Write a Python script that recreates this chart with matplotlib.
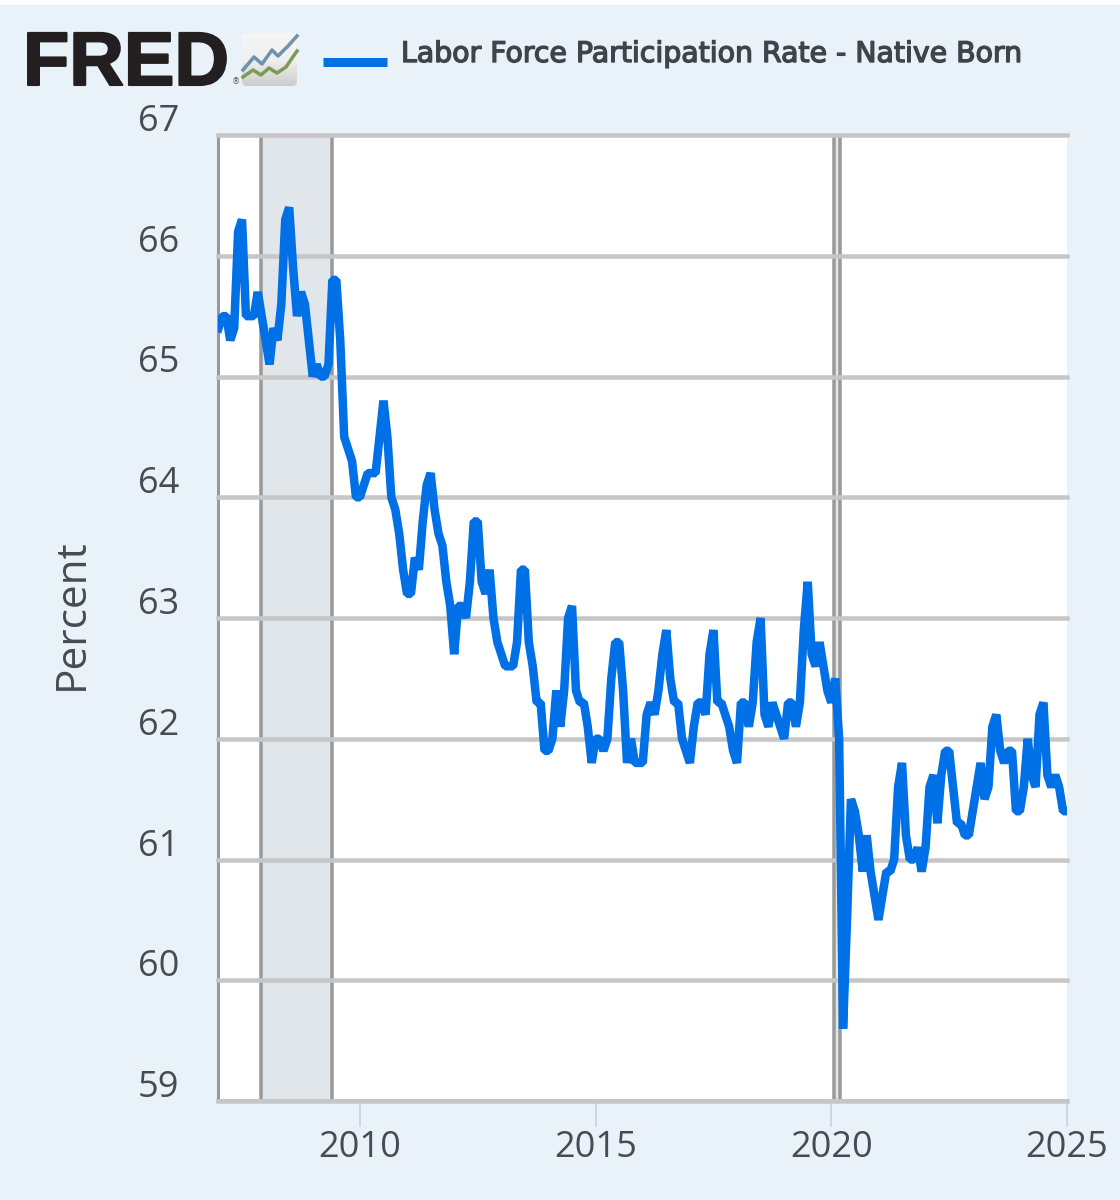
import numpy as np
import matplotlib
matplotlib.use('Agg')
import matplotlib.pyplot as plt
from matplotlib.patches import FancyBboxPatch, Rectangle
from matplotlib.transforms import ScaledTranslation
import matplotlib.patheffects as pe

W, H = 1120, 1200

# Monthly values, one list per year
y2007 = [65.4, 65.5, 65.5, 65.3, 65.4, 66.2, 66.3, 65.5, 65.5, 65.5, 65.7, 65.5]
y2008 = [65.3, 65.1, 65.4, 65.3, 65.6, 66.3, 66.4, 65.9, 65.5, 65.7, 65.6, 65.3]
y2009 = [65.0, 65.1, 65.0, 65.0, 65.1, 65.8, 65.8, 65.3, 64.5, 64.4, 64.3, 64.0]
y2010 = [64.0, 64.1, 64.2, 64.2, 64.2, 64.5, 64.8, 64.5, 64.0, 63.9, 63.7, 63.4]
y2011 = [63.2, 63.2, 63.5, 63.4, 63.8, 64.1, 64.2, 63.9, 63.7, 63.6, 63.3, 63.1]
y2012 = [62.7, 63.1, 63.1, 63.0, 63.3, 63.8, 63.8, 63.3, 63.2, 63.4, 63.0, 62.8]
y2013 = [62.7, 62.6, 62.6, 62.6, 62.8, 63.4, 63.4, 62.8, 62.6, 62.3, 62.3, 61.9]
y2014 = [61.9, 62.0, 62.4, 62.1, 62.4, 63.0, 63.1, 62.4, 62.3, 62.3, 62.1, 61.8]
y2015 = [62.0, 62.0, 61.9, 62.0, 62.5, 62.8, 62.8, 62.4, 61.8, 62.0, 61.8, 61.8]
y2016 = [61.8, 62.2, 62.3, 62.2, 62.4, 62.7, 62.9, 62.5, 62.3, 62.3, 62.0, 61.9]
y2017 = [61.8, 62.1, 62.3, 62.3, 62.2, 62.7, 62.9, 62.3, 62.3, 62.2, 62.1, 61.9]
y2018 = [61.8, 62.3, 62.3, 62.1, 62.3, 62.8, 63.0, 62.2, 62.1, 62.3, 62.2, 62.1]
y2019 = [62.0, 62.3, 62.3, 62.1, 62.3, 62.9, 63.3, 62.7, 62.6, 62.8, 62.6, 62.4]
y2020 = [62.3, 62.5, 62.0, 59.6, 60.5, 61.5, 61.4, 61.2, 60.9, 61.2, 60.9, 60.7]
y2021 = [60.5, 60.7, 60.9, 60.9, 61.0, 61.6, 61.8, 61.2, 61.0, 61.0, 61.1, 60.9]
y2022 = [61.1, 61.6, 61.7, 61.3, 61.7, 61.9, 61.9, 61.6, 61.3, 61.3, 61.2, 61.2]
y2023 = [61.4, 61.6, 61.8, 61.5, 61.6, 62.1, 62.2, 61.9, 61.8, 61.9, 61.9, 61.4]
y2024 = [61.4, 61.6, 62.0, 61.7, 61.6, 62.2, 62.3, 61.7, 61.6, 61.7, 61.6, 61.4]
y2025 = [61.4]

years = [y2007, y2008, y2009, y2010, y2011, y2012, y2013, y2014, y2015,
         y2016, y2017, y2018, y2019, y2020, y2021, y2022, y2023, y2024, y2025]

recessions = [(2007.91, 2009.40), (2020.06, 2020.19)]
xticks = [2010, 2015, 2020, 2025]
yticks = [59, 60, 61, 62, 63, 64, 65, 66, 67]
title = "Labor Force Participation Rate - Native Born"

BG = '#eaf2f9'
BLUE = '#0070e6'
TEXT = '#474c53'
px = 72 / 100  # points per pixel


def main():
    values = np.concatenate(years)
    dates = 2007 + np.arange(len(values)) / 12

    fig = plt.figure(figsize=(W / 100, H / 100), dpi=100, facecolor=BG)
    plt.rcParams['font.family'] = ['Open Sans', 'DejaVu Sans']

    # page level furniture, in pixel coordinates
    page = fig.add_axes([0, 0, 1, 1], zorder=0)
    page.set_xlim(0, W)
    page.set_ylim(H, 0)
    page.axis('off')
    page.add_patch(Rectangle((0, 0), W, 5, color='white', lw=0))

    fred = page.text(23, 85, "FRED", family='Liberation Sans', weight='bold',
                     fontsize=54.5, color='#231f20', ha='left', va='baseline')
    fred.set_path_effects([pe.withStroke(linewidth=1.5, foreground='#231f20')])
    page.text(236, 82, "®", family='DejaVu Sans', fontsize=6, color='#555555',
              ha='center', va='center')

    # little chart icon beside the logo
    box = FancyBboxPatch((242, 33), 55, 53, boxstyle='round,pad=0,rounding_size=5',
                         fc='none', ec='none')
    page.add_patch(box)
    grad = page.imshow(np.linspace(0, 1, 64).reshape(-1, 1), extent=(242, 297, 86, 33),
                       cmap=matplotlib.colors.LinearSegmentedColormap.from_list(
                           'icon', ['#f6f6f6', '#f0f0f0', '#cdcdcd']),
                       aspect='auto', zorder=1)
    grad.set_clip_path(box)
    page.set_xlim(0, W)
    page.set_ylim(H, 0)
    page.plot([243, 254, 262, 272, 278, 288, 297], [70, 57, 64, 50, 56, 46, 36],
              color='#6f93ad', lw=3.5 * px, zorder=2)
    page.plot([243, 253, 261, 269, 277, 286, 297], [77, 70, 75, 68, 73, 67, 51],
              color='#7b9c58', lw=3.5 * px, zorder=2)

    page.plot([323, 387], [62, 62], color=BLUE, lw=9 * px, solid_capstyle='butt')
    # the original has letter spacing; fit a wider face to the same footprint
    head = page.text(401, 54, title, family='DejaVu Sans', fontsize=18,
                     color='#3f444b', ha='left', va='center')
    head.set_path_effects([pe.withStroke(linewidth=1.0, foreground='#3f444b')])
    width = head.get_window_extent(fig.canvas.get_renderer()).width
    head.set_fontsize(18 * 622 / width)

    # the chart itself
    ax = fig.add_axes([218 / W, 1 - 1101 / H, (1067 - 218) / W, (1101 - 135) / H], zorder=2)
    ax.set_xlim(2007 - 0.01, 2025)
    ax.set_ylim(59, 67)
    ax.set_facecolor('white')

    for start, end in recessions:
        ax.axvspan(start, end, fc='#e1e6eb', ec='none', zorder=1)
        ax.axvline(start, color='#999999', lw=3.5 * px, zorder=1.5)
        ax.axvline(end, color='#999999', lw=3.5 * px, zorder=1.5)

    ax.set_yticks(yticks)
    ax.set_xticks(xticks)
    ax.grid(axis='y', color='#c6c6c6', lw=4.5 * px, zorder=2)
    ax.set_axisbelow(False)
    for gl in ax.get_ygridlines():
        gl.set_clip_on(False)
    ax.get_yaxis().set_tick_params(length=0, pad=39 * px, labelsize=26, labelcolor=TEXT)
    ax.get_xaxis().set_tick_params(length=26 * px, width=2 * px, color='#ccd6e4', pad=2,
                                   labelsize=26, labelcolor=TEXT)
    ax.xaxis.grid(False)

    shift = ScaledTranslation(0, 4 / 100, fig.dpi_scale_trans)
    for label in ax.get_yticklabels():
        label.set_verticalalignment('baseline')
        label.set_transform(label.get_transform() + shift)

    ax.plot(dates, values, color=BLUE, lw=8.5 * px, solid_joinstyle='bevel', zorder=3)

    for side in ['top', 'right']:
        ax.spines[side].set_visible(False)
    ax.spines['left'].set_color('#999999')
    ax.spines['left'].set_linewidth(3 * px)
    ax.spines['bottom'].set_color('#c3c7cf')
    ax.spines['bottom'].set_linewidth(4 * px)

    page.text(72, 614, "Percent", fontsize=30.5, color=TEXT, rotation=90,
              ha='center', va='center')

    fig.savefig('out.png', dpi=100, facecolor=BG)


if __name__ == '__main__':
    main()
